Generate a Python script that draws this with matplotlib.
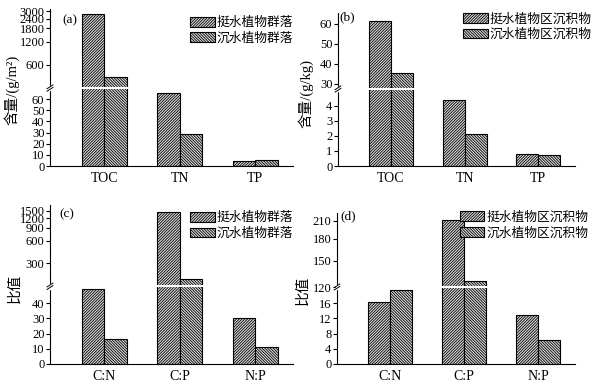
import numpy as np
import matplotlib
matplotlib.use('Agg')
import matplotlib.pyplot as plt
from matplotlib.patches import Patch

plt.rcParams['font.family'] = ['Liberation Serif', 'Noto Sans CJK SC']
plt.rcParams['font.size'] = 9
plt.rcParams['hatch.linewidth'] = 0.6
plt.rcParams['axes.unicode_minus'] = False

# data
nutrients = ['TOC', 'TN', 'TP']
ratios = ['C:N', 'C:P', 'N:P']
legend_plant = ['挺水植物群落', '沉水植物群落']
legend_sed = ['挺水植物区沉积物', '沉水植物区沉积物']

plant_emergent = [2720, 66, 4.8]
plant_submerged = [415, 28.5, 5.4]
sed_emergent = [61.3, 4.4, 0.77]
sed_submerged = [35.7, 2.15, 0.73]
plant_ratio_emergent = [49.2, 1450, 29.9]
plant_ratio_submerged = [16.3, 184, 11.4]
sed_ratio_emergent = [16.3, 211, 12.8]
sed_ratio_submerged = [19.3, 126, 6.3]

ticks_a = [0, 10, 20, 30, 40, 50, 60, 600, 1200, 1800, 2400, 3000]
ticks_b = [0, 1, 2, 3, 4, 30, 40, 50, 60]
ticks_c = [0, 10, 20, 30, 40, 300, 600, 900, 1200, 1500]
ticks_d = [0, 4, 8, 12, 16, 120, 150, 180, 210]

HATCH_EM = '/' * 12
HATCH_SUB = '\\' * 12
FACE = '#dcdcdc'


def make_scale(b, k, lo, d, log):
    # piecewise axis: linear 0..b below the break, log or linear above it
    def fwd(y):
        y = np.asarray(y, float)
        if log:
            up = k + np.log10(np.maximum(y, 1e-9) / lo) * d
        else:
            up = k + (y - lo) * d
        return np.where(y <= b, y / b * k, up)

    def inv(v):
        v = np.asarray(v, float)
        if log:
            up = lo * 10 ** ((v - k) / d)
        else:
            up = lo + (v - k) / d
        return np.where(v <= k, v * b / k, up)
    return fwd, inv


def panel(ax, cats, em, sub, labels, scale, top, ticks, letter, letter_pos, leg_anchor):
    b, k, lo, d, log = scale
    fwd, inv = make_scale(b, k, lo, d, log)
    ax.set_yscale('function', functions=(fwd, inv))
    x = np.arange(len(cats))
    w = 0.3
    ax.bar(x - w / 2, em, w, facecolor=FACE, edgecolor='black', hatch=HATCH_EM, lw=0.8)
    ax.bar(x + w / 2, sub, w, facecolor=FACE, edgecolor='black', hatch=HATCH_SUB, lw=0.8)
    ax.set_ylim(0, top)
    ax.set_xlim(-0.72, 2.5)
    ax.set_yticks(ticks)
    ax.set_yticklabels([str(t) for t in ticks])
    ax.set_xticks(x)
    ax.set_xticklabels(cats, fontsize=10)
    ax.tick_params(axis='x', length=0, pad=4)
    ax.tick_params(axis='y', length=3, width=0.8, pad=1)
    for s in ['top', 'right']:
        ax.spines[s].set_visible(False)
    ax.spines['left'].set_linewidth(0.8)
    ax.spines['bottom'].set_linewidth(0.8)
    # white cut through the bars at the break
    ax.axhline(b, xmin=0.02, color='white', lw=1.5, zorder=5)
    # break mark on the y axis
    fb = k / float(fwd(top))
    ax.plot([0, 0], [fb - 0.008, fb + 0.008], transform=ax.transAxes,
            color='white', lw=2.5, clip_on=False, zorder=6)
    for off in (-0.008, 0.008):
        ax.plot([-0.012, 0.012], [fb + off - 0.012, fb + off + 0.012], transform=ax.transAxes,
                color='black', lw=0.7, clip_on=False, zorder=7)
    ax.text(letter_pos[0], letter_pos[1], letter, transform=ax.transAxes, fontsize=9.5,
            va='center', ha='left')
    handles = [Patch(facecolor=FACE, edgecolor='black', hatch=HATCH_EM, lw=0.8),
               Patch(facecolor=FACE, edgecolor='black', hatch=HATCH_SUB, lw=0.8)]
    ax.legend(handles, labels, loc='upper right', bbox_to_anchor=leg_anchor, frameon=False,
              borderpad=0, borderaxespad=0, handlelength=1.9, handleheight=0.8,
              handletextpad=0.15, labelspacing=0.25, fontsize=9.2)


fig = plt.figure(figsize=(5.95, 3.84), dpi=100)
W, H = 595.0, 384.0
ax_a = fig.add_axes([50 / W, 1 - 166 / H, 243 / W, 157 / H])
ax_b = fig.add_axes([338 / W, 1 - 166 / H, 237 / W, 153 / H])
ax_c = fig.add_axes([50 / W, 1 - 364 / H, 243 / W, 159 / H])
ax_d = fig.add_axes([337 / W, 1 - 364 / H, 238 / W, 151 / H])

panel(ax_a, nutrients, plant_emergent, plant_submerged, legend_plant,
      (70, 78, 300, 77, True), 3200, ticks_a, '(a)', (0.05, 0.93), (1.0, 0.95))
panel(ax_b, nutrients, sed_emergent, sed_submerged, legend_sed,
      (5.1, 77, 27.5, 2.0, False), 65.5, ticks_b, '(b)', (0.005, 0.97), (1.07, 1.0))
panel(ax_c, ratios, plant_ratio_emergent, plant_ratio_submerged, legend_plant,
      (51, 77, 148, 74.2, True), 1800, ticks_c, '(c)', (0.037, 0.94), (1.0, 0.956))
panel(ax_d, ratios, sed_ratio_emergent, sed_ratio_submerged, legend_sed,
      (20.2, 77, 120, 273, True), 224, ticks_d, '(d)', (0.015, 0.98), (1.055, 1.01))

fig.text(12 / W, 1 - 90 / H, '含量/(g/m²)', rotation=90, ha='center', va='center', fontsize=10.5)
fig.text(306 / W, 1 - 93 / H, '含量/(g/kg)', rotation=90, ha='center', va='center', fontsize=10.5)
fig.text(15 / W, 1 - 288 / H, '比值', rotation=90, ha='center', va='center', fontsize=10.5)
fig.text(303 / W, 1 - 290 / H, '比值', rotation=90, ha='center', va='center', fontsize=10.5)

fig.savefig('out.png', dpi=100)
